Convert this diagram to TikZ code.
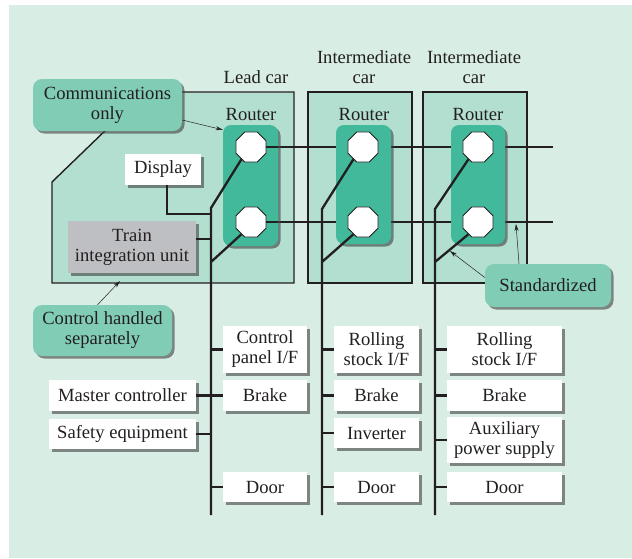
\documentclass[tikz,border=0pt]{standalone}
\usepackage{fontspec}
\setmainfont{Liberation Serif}
\usetikzlibrary{shapes.geometric,shadows,arrows.meta}
\definecolor{bgc}{HTML}{D8EDE4}
\definecolor{carc}{HTML}{B3DFD0}
\definecolor{routc}{HTML}{42B99B}
\definecolor{callc}{HTML}{80CCB5}
\definecolor{grayc}{HTML}{BEBFC3}
\definecolor{txt}{HTML}{231F20}
\pgfdeclarelayer{bg}
\pgfsetlayers{bg,main}
\tikzset{
  shad/.style={drop shadow={shadow xshift=2.5pt,shadow yshift=-2.5pt,fill=black!75,opacity=0.6}},
  carbox/.style={draw=txt,line width=1.4pt,fill=carc,inner sep=0},
  router/.style={fill=routc,rounded corners=8pt,shad,inner sep=0},
  oct/.style={regular polygon,regular polygon sides=8,minimum size=32.5pt,draw=txt,line width=0.8pt,fill=white,inner sep=0},
  wbox/.style={fill=white,shad,align=center,inner sep=0},
  gbox/.style={fill=grayc,shad,align=center,inner sep=0},
  callout/.style={fill=callc,rounded corners=9pt,shad,align=center,inner sep=0},
  bus/.style={line width=2.6pt,draw=txt},
  tarrow/.style={-{Stealth[length=7pt,width=4pt]},line width=0.5pt,draw=txt},
  lbl/.style={align=center,inner sep=0}
}
\begin{document}
\begin{tikzpicture}[x=1pt,y=-1pt,font=\fontsize{18.6}{20}\selectfont,text=txt]
\useasboundingbox (0,0) rectangle (632,558);
% routers
\node[router,minimum width=55pt,minimum height=121pt] (r1) at (250.5,185.5) {};
\node[router,minimum width=55pt,minimum height=119pt] (r2) at (363.5,184.5) {};
\node[router,minimum width=54pt,minimum height=119pt] (r3) at (478,184.5) {};
% octagons
\node[oct] (o1u) at (251,147) {};
\node[oct] (o1l) at (251,222) {};
\node[oct] (o2u) at (363,147) {};
\node[oct] (o2l) at (363,222) {};
\node[oct] (o3u) at (478,147) {};
\node[oct] (o3l) at (478,222) {};
\coordinate (eu) at (553,147);
\coordinate (el) at (553,222);
% background layer
\begin{pgfonlayer}{bg}
\fill[bgc] (9,5) rectangle (632,558);
\draw[carbox] (52,182) -- (110,126) -- (110,92) -- (294,92) -- (294,283) -- (52,283) -- cycle;
\node[carbox,minimum width=104pt,minimum height=191pt] (c2) at (360,187.5) {};
\node[carbox,minimum width=104pt,minimum height=191pt] (c3) at (475,187.5) {};
\draw[bus] (o1u.east) -- (o2u.west) (o2u.east) -- (o3u.west) (o3u.east) -- (eu);
\draw[bus] (o1l.east) -- (o2l.west) (o2l.east) -- (o3l.west) (o3l.east) -- (el);
\end{pgfonlayer}
\draw[bus] (o1u.east) -- (o1u.east -| r1.east);
\draw[bus] (o1l.east) -- (o1l.east -| r1.east);
% labels
\node[lbl] (lc) at (256,77) {Lead car};
\node[lbl] (ic1) at (364,67) {Intermediate\\car};
\node[lbl] (ic2) at (474,67) {Intermediate\\car};
\node[lbl] (rl1) at (251,114) {Router};
\node[lbl] (rl2) at (364,114) {Router};
\node[lbl] (rl3) at (478,114) {Router};
% vertical buses
\coordinate (v1a) at (211,208); \coordinate (v1b) at (211,262); \coordinate (v1e) at (211,515);
\coordinate (v2a) at (322,209); \coordinate (v2b) at (322,262); \coordinate (v2e) at (322,515);
\coordinate (v3a) at (435,209); \coordinate (v3b) at (435,262); \coordinate (v3e) at (435,515);
\draw[bus,line width=2.3pt] (o1u.232) -- (v1a) -- (v1e) (o1l.232) -- (v1b);
\draw[bus,line width=2.3pt] (o2u.232) -- (v2a) -- (v2e) (o2l.232) -- (v2b);
\draw[bus,line width=2.3pt] (o3u.232) -- (v3a) -- (v3e) (o3l.232) -- (v3b);
% display and TIU
\node[wbox,minimum width=76pt,minimum height=31pt] (disp) at (163,169.5) {Display};
\node[gbox,minimum width=128pt,minimum height=52pt] (tiu) at (132,247) {Train\\integration unit};
\coordinate (jd) at (211,214);
\draw[bus,line width=2.3pt] ([xshift=4pt]disp.south) |- (jd);
\draw[bus] ([yshift=8pt]tiu.east) -- ([yshift=8pt]tiu.east -| v1e);
% lead car devices
\node[wbox,minimum width=84pt,minimum height=47pt] (cp) at (265,349.5) {Control\\panel I/F};
\node[wbox,minimum width=84pt,minimum height=31pt] (b1) at (265,395.5) {Brake};
\node[wbox,minimum width=84pt,minimum height=30pt] (d1) at (265,487) {Door};
\node[wbox,minimum width=147pt,minimum height=31pt] (mc) at (122.5,395.5) {Master controller};
\node[wbox,minimum width=147pt,minimum height=30pt] (se) at (122.5,434) {Safety equipment};
% intermediate car 1 devices
\node[wbox,minimum width=85pt,minimum height=47pt] (rs2) at (376.5,349.5) {Rolling\\stock I/F};
\node[wbox,minimum width=85pt,minimum height=31pt] (b2) at (376.5,395.5) {Brake};
\node[wbox,minimum width=85pt,minimum height=30pt] (inv) at (376.5,433) {Inverter};
\node[wbox,minimum width=85pt,minimum height=30pt] (d2) at (376.5,487) {Door};
% intermediate car 2 devices
\node[wbox,minimum width=115pt,minimum height=47pt] (rs3) at (504.5,349.5) {Rolling\\stock I/F};
\node[wbox,minimum width=115pt,minimum height=31pt] (b3) at (504.5,395.5) {Brake};
\node[wbox,minimum width=115pt,minimum height=46pt] (aps) at (504.5,440) {Auxiliary\\power supply};
\node[wbox,minimum width=115pt,minimum height=30pt] (d3) at (504.5,487) {Door};
% stubs
\foreach \n/\v in {cp/v1e,b1/v1e,d1/v1e,rs2/v2e,b2/v2e,inv/v2e,d2/v2e,rs3/v3e,b3/v3e,aps/v3e,d3/v3e}
  \draw[bus] (\n.west) -- (\n.west -| \v);
\draw[bus] (mc.east) -- (mc.east -| v1e);
\draw[bus] (se.east) -- (se.east -| v1e);
% callouts
\node[callout,minimum width=149pt,minimum height=52pt] (comm) at (107.5,105) {Communications\\only};
\node[callout,minimum width=139pt,minimum height=51pt] (ctrl) at (102.5,330.5) {Control handled\\separately};
\node[callout,minimum width=126pt,minimum height=43pt] (std) at (548,285.5) {Standardized};
\coordinate (lcb) at (120,281);
\coordinate (sa) at (450,251);
\coordinate (sb) at (516,224);
\draw[tarrow] ([yshift=-15pt]comm.east) -- ([yshift=-5pt]r1.north west);
\draw[tarrow] ([xshift=-5pt]ctrl.north) -- (lcb);
\draw[tarrow] ([yshift=8pt]std.west) -- (sa);
\draw[tarrow] ([xshift=-29pt]std.north) -- (sb);
\end{tikzpicture}
\end{document}
